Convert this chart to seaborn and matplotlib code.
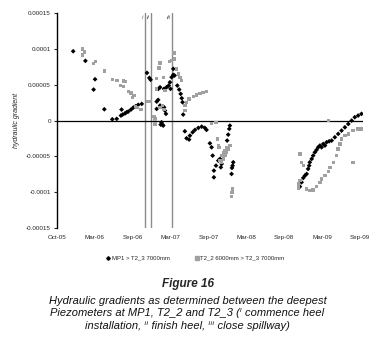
# Figure 16: hydraulic gradients between the deepest piezometers
import numpy as np
import pandas as pd
import seaborn as sns
import matplotlib
import matplotlib.pyplot as plt
from matplotlib.ticker import FuncFormatter

sns.set_style('white')
matplotlib.rcParams['font.family'] = ['Liberation Sans', 'DejaVu Sans']

# x values are days since 1 Oct 2005
mp1_day = [77, 135, 174, 181, 225, 263, 284, 304, 307, 312, 323, 331, 339, 352, 363, 374,
           386, 403, 428, 439, 445, 474, 474, 481, 482, 490, 490, 493, 497, 502, 505, 509,
           509, 513, 518, 521, 531, 537, 540, 545, 553, 553, 559, 572, 581, 588, 593, 597,
           600, 608, 616, 628, 632, 645, 656, 672, 688, 703, 711, 727, 735, 740, 746, 746,
           756, 767, 775, 779, 783, 809, 814, 819, 822, 830, 832, 835, 838,
           1155, 1163, 1171, 1179, 1187, 1194, 1199, 1202, 1211, 1218, 1226, 1234, 1242,
           1250, 1258, 1266, 1274, 1282, 1294, 1306, 1321, 1337, 1353, 1369, 1385, 1401,
           1416, 1432, 1448]
mp1_grad = [9.68, 8.34, 4.33, 5.77, 1.58, 0.18, 0.24, 0.70, 1.54, 0.84, 1.00, 1.16, 1.26,
            1.54, 1.82, 2.00, 2.20, 2.33, 6.66, 5.96, 5.70, 2.65, 1.63, 2.89, 4.43, 4.65,
            2.10, -0.56, -0.24, -0.60, -0.70, 4.43, 1.86, 1.40, 0.94, 4.65, 4.89, 5.35,
            4.43, 6.05, 6.38, 7.22, 6.29, 4.89, 4.33, 3.73, 3.12, 2.56, 0.84, -1.49, -2.47,
            -2.65, -2.10, -1.63, -1.30, -1.02, -0.84, -1.02, -1.30, -3.17, -3.73, -4.89,
            -6.99, -7.92, -6.29, -5.59, -5.35, -6.52, -6.05, -2.79, -1.96, -1.16, -0.70,
            -7.45, -6.61, -6.29, -5.82,
            -9.22, -8.62, -8.00, -7.68, -7.45, -6.75, -6.29, -5.82, -5.35, -4.89, -4.43,
            -4.10, -3.73, -3.49, -3.73, -3.26, -3.49, -3.03, -2.89, -2.79, -2.33, -1.86,
            -1.40, -0.94, -0.47, 0.00, 0.47, 0.70, 0.94]

t2_day = [120, 122, 130, 173, 184, 225, 263, 285, 301, 315, 315, 326, 339, 352, 358, 366,
          374, 383, 399, 431, 437, 443, 462, 466, 466, 474, 474, 485, 490, 490, 502, 505,
          509, 513, 534, 545, 556, 559, 569, 577, 585, 593, 608, 608, 616, 628, 648, 664,
          680, 695, 711, 735, 756, 762, 767, 771, 775, 783, 783, 791, 791, 799, 799, 807,
          807, 814, 822, 830, 832, 835,
          1147, 1147, 1155, 1155, 1163, 1171, 1187, 1202, 1218, 1234, 1250, 1258, 1274,
          1290, 1290, 1298, 1314, 1329, 1337, 1345, 1353, 1369, 1385, 1408, 1408, 1432,
          1448]
t2_grad = [10.0, 9.18, 9.55, 8.00, 8.24, 6.94, 5.73, 5.59, 4.89, 5.55, 4.79, 5.49, 4.09,
           3.87, 3.21, 3.49, 2.00, 1.86, 1.54, 2.65, 2.65, 2.65, 0.56, -0.47, 0.24, 5.90,
           4.43, 7.36, 8.06, 1.86, 2.10, 6.05, 1.54, 4.19, 8.24, 8.38, 9.46, 8.62, 7.22,
           6.52, 6.05, 5.59, 1.40, 2.10, 2.56, 3.03, 3.35, 3.59, 3.82, 3.96, 4.09, -0.37,
           -0.24, -2.56, -3.49, -3.73, -5.59, -5.82, -4.89, -5.35, -4.43, -4.89, -4.19,
           -4.43, -3.73, -3.96, -3.49, -10.6, -10.0, -9.54,
           -8.85, -9.41, -4.66, -8.38, -5.82, -6.29, -9.54, -9.78, -9.69, -9.22, -8.62,
           -8.15, -7.68, -7.08, 0.00, -6.52, -5.82, -4.89, -3.96, -3.26, -2.56, -2.10,
           -1.86, -1.40, -5.82, -1.16, -1.16]

series_names = ['MP1 > T2_3 7000mm', 'T2_2 6000mm > T2_3 7000mm']
tick_labels = ['Oct-05', 'Mar-06', 'Sep-06', 'Mar-07', 'Sep-07', 'Mar-08', 'Sep-08',
               'Mar-09', 'Sep-09']
event_day = [418, 447, 547]
event_label = ['i', 'ii', 'iii']

df = pd.concat([
    pd.DataFrame({'day': mp1_day, 'gradient': np.array(mp1_grad) * 1e-5,
                  'series': series_names[0]}),
    pd.DataFrame({'day': t2_day, 'gradient': np.array(t2_grad) * 1e-5,
                  'series': series_names[1]}),
])

fig = plt.figure(figsize=(3.75, 3.37), dpi=100)
ax = fig.add_axes([0.152, 0.3234, 0.816, 0.6376])

# event lines behind the points
for d, lab in zip(event_day, event_label):
    ax.axvline(d, color='#8c8c8c', linewidth=1.0, zorder=1)
    ax.text(d - 6, 1.47e-4, lab, ha='right', va='top', fontsize=4.5, style='italic',
            color='#555577')
ax.axhline(0, color='black', linewidth=0.9, zorder=1)

sns.scatterplot(data=df, x='day', y='gradient', hue='series', style='series',
                palette={series_names[0]: 'black', series_names[1]: '#a0a0a0'},
                markers={series_names[0]: 'D', series_names[1]: 's'},
                s=6, linewidth=0, ax=ax, zorder=3, legend=False)

ax.set_xlim(0, 1455)
ax.set_ylim(-1.5e-4, 1.5e-4)
ax.set_xticks(np.arange(0, 1441, 180))
ax.set_xticklabels(tick_labels)
ax.set_yticks(np.arange(-1.5e-4, 1.51e-4, 5e-5))
ax.yaxis.set_major_formatter(FuncFormatter(
    lambda v, p: np.format_float_positional(round(v, 6), trim='-')))
ax.tick_params(axis='x', length=0, labelsize=4.5, pad=5)
ax.tick_params(axis='y', length=2.5, width=0.8, labelsize=4.5, pad=2, left=True,
               direction='out')
for side in ['top', 'right', 'bottom']:
    ax.spines[side].set_visible(False)
ax.spines['left'].set_linewidth(1.0)
ax.spines['left'].set_color('black')
ax.set_xlabel('')
ax.set_ylabel('hydraulic gradient', fontsize=5, style='italic', labelpad=4)

# legend below the plot
handles = [
    plt.Line2D([], [], marker='D', color='black', linestyle='none', markersize=1.8),
    plt.Line2D([], [], marker='s', color='#a0a0a0', linestyle='none', markersize=2.2),
]
fig.legend(handles, series_names, loc='center', bbox_to_anchor=(0.52, 0.234), ncol=2,
           frameon=False, fontsize=4.3, handletextpad=0.1, columnspacing=4,
           handlelength=1)

# caption
fig.text(0.5, 0.158, 'Figure 16', ha='center', va='center', fontsize=8.5,
         style='italic', weight='bold')
caption = ['Hydraulic gradients as determined between the deepest',
           'Piezometers at MP1, T2_2 and T2_3 (\u2071 commence heel',
           'installation, \u2071\u2071 finish heel, \u2071\u2071\u2071 close spillway)']
fig.text(0.5, 0.071, '\n'.join(caption), ha='center', va='center', fontsize=8,
         style='italic', linespacing=1.32, color='#111111')

fig.savefig('out.png', dpi=100)
